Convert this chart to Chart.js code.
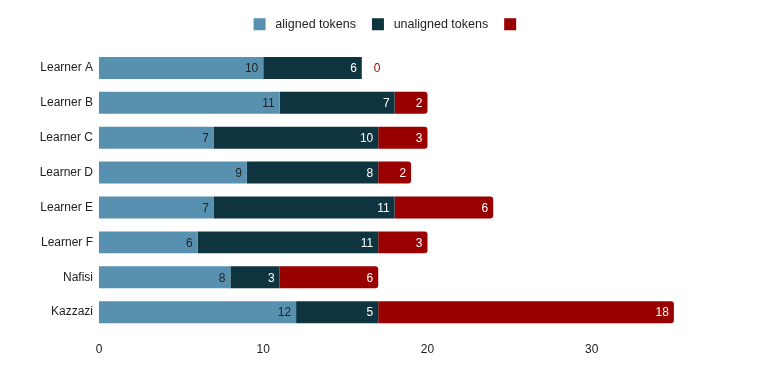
<!DOCTYPE html>
<html>
<head>
<meta charset="utf-8">
<script src="https://cdn.jsdelivr.net/npm/chart.js@4"></script>
<style>
  html, body { margin: 0; padding: 0; background: #fff; }
  #wrap { width: 763px; height: 371px; }
</style>
</head>
<body>
<div id="wrap"><canvas id="chart"></canvas></div>
<script>
const categories = ['Learner A', 'Learner B', 'Learner C', 'Learner D', 'Learner E', 'Learner F', 'Nafisi', 'Kazzazi'];
const alignedTokens = [10, 11, 7, 9, 7, 6, 8, 12];
const unalignedTokens = [6, 7, 10, 8, 11, 11, 3, 5];
const otherTokens = [0, 2, 3, 2, 6, 3, 6, 18];
const xTicks = [0, 10, 20, 30];

const FONT = "'Liberation Sans', Arial, sans-serif";
const labelColors = ['#222222', '#ffffff', '#ffffff'];

// draws the value at the end of every segment
const segmentLabels = {
  id: 'segmentLabels',
  afterDatasetsDraw(chart) {
    const ctx = chart.ctx;
    ctx.save();
    ctx.font = '12px ' + FONT;
    ctx.textBaseline = 'middle';
    chart.data.datasets.forEach((ds, i) => {
      const meta = chart.getDatasetMeta(i);
      meta.data.forEach((bar, j) => {
        const v = ds.data[j];
        if (v === 0) {
          ctx.fillStyle = ds.backgroundColor;
          ctx.textAlign = 'left';
          ctx.fillText(String(v), bar.x + 12, bar.y + 1);
        } else {
          ctx.fillStyle = labelColors[i];
          ctx.textAlign = 'right';
          ctx.fillText(String(v), bar.x - 5, bar.y + 1);
        }
      });
    });
    ctx.restore();
  }
};

// extra room between legend and plot
const legendGap = {
  id: 'legendGap',
  beforeInit(chart) {
    const origFit = chart.legend.fit;
    chart.legend.fit = function () {
      origFit.bind(chart.legend)();
      this.height += 10;
    };
  }
};

const config = {
  type: 'bar',
  data: {
    labels: categories,
    datasets: [
      { label: 'aligned tokens', data: alignedTokens, backgroundColor: '#5891b0' },
      { label: 'unaligned tokens', data: unalignedTokens, backgroundColor: '#0e3440' },
      {
        label: '',
        data: otherTokens,
        backgroundColor: '#990000',
        borderRadius: { topLeft: 0, bottomLeft: 0, topRight: 3, bottomRight: 3 },
        borderSkipped: false,
      },
    ],
  },
  options: {
    indexAxis: 'y',
    responsive: true,
    maintainAspectRatio: false,
    animation: false,
    categoryPercentage: 0.63,
    barPercentage: 1,
    layout: { padding: { top: 2, right: 7, bottom: 1, left: 20 } },
    plugins: {
      legend: {
        position: 'top',
        labels: {
          color: '#222',
          font: { family: FONT, size: 12.5 },
          boxWidth: 12,
          boxHeight: 12,
          padding: 16,
          generateLabels(chart) {
            const items = Chart.defaults.plugins.legend.labels.generateLabels(chart);
            items.forEach((it) => { if (it.text) it.text = ' ' + it.text; });
            return items;
          },
        },
      },
      tooltip: { enabled: false },
    },
    scales: {
      x: {
        stacked: true,
        min: 0,
        max: 40,
        grid: { display: false, drawTicks: false },
        border: { display: false },
        afterBuildTicks(axis) {
          axis.ticks = xTicks.map((v) => ({ value: v }));
        },
        ticks: {
          color: '#222',
          font: { family: FONT, size: 12 },
          padding: 13,
        },
      },
      y: {
        stacked: true,
        grid: { display: false, drawTicks: false },
        border: { display: false },
        afterFit(axis) { axis.width = 79; },
        ticks: {
          color: '#222',
          font: { family: FONT, size: 12 },
          padding: 6,
        },
      },
    },
  },
  plugins: [segmentLabels, legendGap],
};

new Chart(document.getElementById('chart'), config);
</script>
</body>
</html>
